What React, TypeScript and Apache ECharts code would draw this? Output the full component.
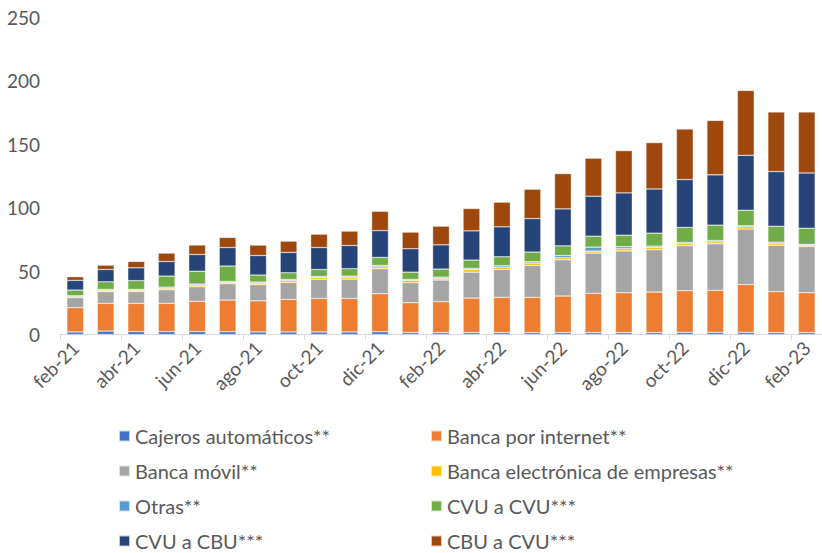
import React, { useEffect, useRef } from "react";
import * as echarts from "echarts";

const categories = [
  "feb-21", "mar-21", "abr-21", "may-21", "jun-21", "jul-21", "ago-21", "sep-21", "oct-21", "nov-21",
  "dic-21", "ene-22", "feb-22", "mar-22", "abr-22", "may-22", "jun-22", "jul-22", "ago-22", "sep-22",
  "oct-22", "nov-22", "dic-22", "ene-23", "feb-23",
];

const cajeros = [2.0, 2.7, 2.3, 2.3, 2.3, 2.2, 2.0, 2.0, 2.0, 2.0, 2.2, 1.5, 1.5, 1.5, 1.5, 1.5, 1.5, 1.5, 1.5, 1.5, 1.7, 1.7, 1.7, 1.5, 1.5];
const internet = [19.1, 21.8, 22.2, 22.2, 23.8, 24.9, 24.5, 25.6, 26.4, 26.4, 29.9, 23.5, 24.3, 27.2, 27.7, 27.7, 28.8, 30.9, 31.4, 31.9, 32.8, 33.1, 37.7, 32.2, 31.4];
const movil = [7.9, 9.2, 9.2, 10.7, 11.5, 12.9, 12.7, 13.4, 15.0, 15.2, 19.7, 15.8, 17.1, 20.4, 22.0, 25.2, 28.5, 31.7, 32.9, 33.3, 35.4, 36.6, 43.6, 36.6, 36.4];
const empresas = [0.8, 1.1, 1.1, 1.1, 1.3, 1.0, 1.3, 1.5, 1.6, 1.6, 1.5, 1.8, 1.3, 2.1, 1.8, 1.9, 1.6, 1.6, 1.8, 1.9, 1.6, 1.6, 1.8, 1.3, 1.1];
const otras = [0.7, 0.7, 0.7, 1.0, 0.8, 0.8, 0.8, 0.8, 0.7, 0.8, 1.1, 0.8, 1.0, 0.8, 1.1, 1.0, 1.8, 3.1, 1.5, 1.0, 1.0, 1.0, 0.8, 1.1, 0.5];
const cvuCvu = [4.5, 6.0, 6.9, 8.7, 10.2, 12.1, 5.5, 5.3, 5.5, 5.8, 6.3, 5.7, 6.3, 6.6, 7.1, 7.6, 7.6, 8.6, 9.1, 10.2, 11.8, 12.1, 12.3, 12.6, 12.8];
const cvuCbu = [7.6, 9.7, 10.1, 11.5, 13.1, 14.6, 15.4, 16.0, 17.3, 18.3, 21.1, 18.4, 19.1, 23.0, 23.6, 26.4, 29.1, 31.5, 33.3, 34.8, 37.7, 39.6, 43.2, 43.0, 43.5];
const cbuCvu = [2.9, 3.4, 5.0, 6.6, 7.4, 7.9, 8.2, 8.9, 10.5, 11.3, 15.2, 13.1, 14.7, 17.6, 19.4, 23.1, 27.8, 29.9, 33.3, 36.5, 39.8, 42.9, 51.1, 46.9, 48.0];

const seriesNames = [
  "Cajeros automáticos**",
  "Banca por internet**",
  "Banca móvil**",
  "Banca electrónica de empresas**",
  "Otras**",
  "CVU a CVU***",
  "CVU a CBU***",
  "CBU a CVU***",
];
const seriesData = [cajeros, internet, movil, empresas, otras, cvuCvu, cvuCbu, cbuCvu];
const colors = ["#4472C4", "#ED7D31", "#A5A5A5", "#FFC000", "#5B9BD5", "#70AD47", "#264478", "#9E480E"];

const FONT = "Lato";
const TEXT_COLOR = "#595959";

export default function App() {
  const ref = useRef<HTMLDivElement>(null);
  useEffect(() => {
    if (!ref.current) return;
    const chart = echarts.init(ref.current, null, { renderer: "svg" });
    const legendCommon = {
      orient: "vertical",
      icon: "rect",
      itemWidth: 11,
      itemHeight: 11,
      itemGap: 15,
      height: 160,
      textStyle: { color: TEXT_COLOR, fontSize: 20, fontFamily: FONT, lineHeight: 20 },
      selectedMode: false,
    };
    chart.setOption({
      animation: false,
      color: colors,
      textStyle: { fontFamily: FONT },
      grid: { left: 60, right: -4, top: 17, bottom: 218.5 },
      legend: [
        { ...legendCommon, left: 113, top: 421, data: [seriesNames[0], seriesNames[2], seriesNames[4], seriesNames[6]] },
        { ...legendCommon, left: 425, top: 421, data: [seriesNames[1], seriesNames[3], seriesNames[5], seriesNames[7]] },
      ],
      xAxis: {
        type: "category",
        data: categories,
        axisLine: { lineStyle: { color: "#D9D9D9", width: 1 } },
        axisTick: { show: true, interval: 1, length: 5, lineStyle: { color: "#D9D9D9" } },
        axisLabel: { interval: 1, rotate: 45, margin: 10, color: TEXT_COLOR, fontSize: 19, fontFamily: FONT },
      },
      yAxis: {
        type: "value",
        min: 0,
        max: 250,
        interval: 50,
        axisLine: { show: false },
        axisTick: { show: false },
        splitLine: { show: false },
        axisLabel: { margin: 20, color: TEXT_COLOR, fontSize: 19, fontFamily: FONT },
      },
      series: seriesNames.map((name, i) => ({
        name,
        type: "bar",
        stack: "total",
        barWidth: "55%",
        data: seriesData[i],
        itemStyle: { borderColor: "rgba(255,255,255,0.7)", borderWidth: 0.5 },
      })),
    });
    return () => chart.dispose();
  }, []);
  return <div ref={ref} style={{ position: "absolute", left: 0, top: 0, width: 822, height: 553 }} />;
}
